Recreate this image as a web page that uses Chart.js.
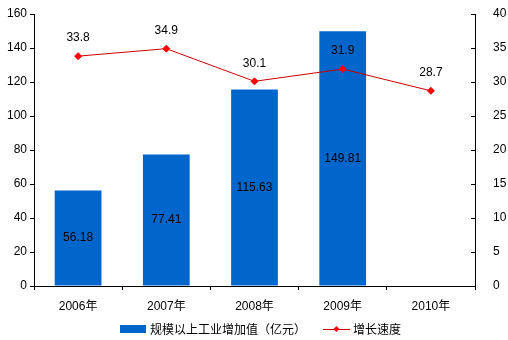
<!DOCTYPE html>
<html>
<head>
<meta charset="utf-8">
<script src="https://cdn.jsdelivr.net/npm/chart.js@4"></script>
<style>
  html, body { margin: 0; padding: 0; background: #fff; }
  #wrap { width: 508px; height: 340px; }
</style>
</head>
<body>
<div id="wrap"><canvas id="myChart"></canvas></div>
<script>
const years = ['2006年', '2007年', '2008年', '2009年', '2010年'];
const addedValue = [56.18, 77.41, 115.63, 149.81, null];
const growthRate = [33.8, 34.9, 30.1, 31.9, 28.7];
const leftTicks = [0, 20, 40, 60, 80, 100, 120, 140, 160];
const rightTicks = [0, 5, 10, 15, 20, 25, 30, 35, 40];
const seriesNames = ['规模以上工业增加值（亿元）', '增长速度'];

const FONT = "'Liberation Sans', Arial, 'Noto Sans CJK SC', sans-serif";
const CJK = "'Noto Sans CJK SC', sans-serif";
Chart.defaults.font.family = FONT;
Chart.defaults.font.size = 12;
Chart.defaults.color = '#000';

const BAR_COLOR = '#0066cc';
const LINE_COLOR = '#cc0000';
const POINT_COLOR = '#ff0000';

// value labels: bars in the middle, line points above
const valueLabels = {
  id: 'valueLabels',
  afterDatasetsDraw(chart) {
    const ctx = chart.ctx;
    ctx.save();
    ctx.font = '12px ' + FONT;
    ctx.fillStyle = '#000';
    ctx.textAlign = 'center';
    ctx.textBaseline = 'middle';
    chart.getDatasetMeta(0).data.forEach((bar, i) => {
      if (addedValue[i] == null) return;
      ctx.fillText(addedValue[i].toFixed(2), bar.x, (bar.y + bar.base) / 2);
    });
    chart.getDatasetMeta(1).data.forEach((pt, i) => {
      ctx.fillText(String(growthRate[i]), pt.x, pt.y - 18);
    });
    ctx.restore();
  }
};

// right axis ticks point inward, toward the plot
const innerTicks = {
  id: 'innerTicks',
  afterDraw(chart) {
    const s = chart.scales.y1;
    const ctx = chart.ctx;
    ctx.save();
    ctx.strokeStyle = '#000';
    ctx.lineWidth = 1;
    ctx.beginPath();
    s.ticks.forEach(t => {
      const y = Math.round(s.getPixelForValue(t.value)) + 0.5;
      ctx.moveTo(s.left - 4, y);
      ctx.lineTo(s.left, y);
    });
    ctx.stroke();
    ctx.restore();
  }
};

// legend row under the axis labels
const bottomLegend = {
  id: 'bottomLegend',
  afterDraw(chart) {
    const ctx = chart.ctx;
    const y = 329;
    ctx.save();
    ctx.font = '12px ' + CJK;
    ctx.fillStyle = '#000';
    ctx.textBaseline = 'middle';
    ctx.textAlign = 'left';

    ctx.fillStyle = BAR_COLOR;
    ctx.fillRect(120, y - 4, 26, 8);
    ctx.fillStyle = '#000';
    ctx.fillText(seriesNames[0], 150, y);

    ctx.strokeStyle = LINE_COLOR;
    ctx.lineWidth = 1;
    ctx.beginPath();
    ctx.moveTo(323, y + 0.5);
    ctx.lineTo(350, y + 0.5);
    ctx.stroke();
    ctx.fillStyle = POINT_COLOR;
    ctx.beginPath();
    ctx.moveTo(336.5, y - 3); ctx.lineTo(339.5, y); ctx.lineTo(336.5, y + 3); ctx.lineTo(333.5, y);
    ctx.closePath();
    ctx.fill();
    ctx.fillStyle = '#000';
    ctx.fillText(seriesNames[1], 353, y);
    ctx.restore();
  }
};

new Chart(document.getElementById('myChart'), {
  data: {
    labels: years,
    datasets: [{
      type: 'bar',
      label: seriesNames[0],
      data: addedValue,
      backgroundColor: BAR_COLOR,
      categoryPercentage: 1,
      barPercentage: 0.53,
      yAxisID: 'y',
      order: 2
    }, {
      type: 'line',
      label: seriesNames[1],
      data: growthRate,
      borderColor: LINE_COLOR,
      borderWidth: 1,
      pointStyle: 'rectRot',
      pointRadius: 3.5,
      pointBackgroundColor: POINT_COLOR,
      pointBorderColor: POINT_COLOR,
      yAxisID: 'y1',
      order: 1
    }]
  },
  options: {
    responsive: true,
    maintainAspectRatio: false,
    animation: false,
    layout: { padding: { top: 14, left: 0, right: 0, bottom: 24 } },
    plugins: {
      tooltip: { enabled: false },
      legend: { display: false }
    },
    scales: {
      x: {
        offset: true,
        afterFit(s) { s.height = 30; },
        grid: { offset: true, drawOnChartArea: false, color: '#000', tickLength: 4 },
        border: { color: '#000', width: 1 },
        ticks: { padding: 9 }
      },
      y: {
        position: 'left',
        min: 0, max: 160,
        afterBuildTicks(s) { s.ticks = leftTicks.map(v => ({ value: v })); },
        afterFit(s) { s.width = 34; s.paddingTop = 0; s.paddingBottom = 0; },
        grid: { drawOnChartArea: false, color: '#000', tickLength: 4 },
        border: { color: '#000', width: 1 },
        ticks: { padding: 3 }
      },
      y1: {
        position: 'right',
        min: 0, max: 40,
        afterBuildTicks(s) { s.ticks = rightTicks.map(v => ({ value: v })); },
        afterFit(s) { s.width = 33; s.paddingTop = 0; s.paddingBottom = 0; },
        grid: { display: false },
        border: { color: '#000', width: 1 },
        ticks: { padding: 10 }
      }
    }
  },
  plugins: [valueLabels, innerTicks, bottomLegend]
});
</script>
</body>
</html>
